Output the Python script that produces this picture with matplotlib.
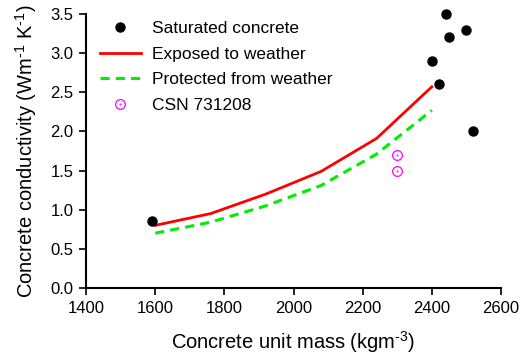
import matplotlib
matplotlib.use("Agg")
import matplotlib.pyplot as plt
from matplotlib.lines import Line2D
from matplotlib.legend_handler import HandlerTuple

plt.rcParams['font.family'] = ['Liberation Sans', 'DejaVu Sans']
plt.rcParams['mathtext.fontset'] = 'custom'
plt.rcParams['mathtext.rm'] = 'Liberation Sans'
plt.rcParams['mathtext.default'] = 'regular'

sat_x = [1590, 2400, 2420, 2440, 2450, 2500, 2520]
sat_y = [0.85, 2.9, 2.6, 3.5, 3.2, 3.3, 2.0]

line_x = [1600, 1760, 1920, 2080, 2240, 2400]
exposed_y = [0.80, 0.95, 1.20, 1.49, 1.91, 2.57]
protected_y = [0.70, 0.84, 1.05, 1.31, 1.71, 2.27]

csn_x = [2300, 2300]
csn_y = [1.7, 1.5]

xticks = [1400, 1600, 1800, 2000, 2200, 2400, 2600]
yticks = [0.0, 0.5, 1.0, 1.5, 2.0, 2.5, 3.0, 3.5]

fig = plt.figure(figsize=(5.2, 3.58), dpi=100)
ax = fig.add_axes([86/520, 1-288/358, (501-86)/520, (288-14)/358])

ax.plot(sat_x, sat_y, 'o', color='black', markersize=6.5, clip_on=False, zorder=5,
        linestyle='none')
ax.plot(line_x, exposed_y, '-', color='#ff0000', linewidth=2)
ax.plot(line_x, protected_y, '--', color='#00ee00', linewidth=2.2, dashes=(3, 2))
ax.plot(csn_x, csn_y, 'o', markerfacecolor='none', markeredgecolor='#ff00ff',
        markersize=7, markeredgewidth=0.9, linestyle='none')
ax.plot(csn_x, csn_y, '.', color='#ff00ff', markersize=1, linestyle='none')

ax.set_xlim(1400, 2600)
ax.set_ylim(0, 3.5)
ax.set_xticks(xticks)
ax.set_yticks(yticks)
ax.set_yticklabels([f"{v:.1f}" for v in yticks])
for s in ['top', 'right']:
    ax.spines[s].set_visible(False)
for s in ['left', 'bottom']:
    ax.spines[s].set_linewidth(1.5)
ax.tick_params(direction='out', length=5, width=1.2, labelsize=12)
ax.tick_params(axis='x', pad=4.5)
ax.tick_params(axis='y', pad=4)

ax.set_xlabel('Concrete unit mass (kgm$^{\\text{-3}}$)', fontsize=14.5, labelpad=9)
ax.set_ylabel('Concrete conductivity (Wm$^{\\text{-1}}$ K$^{\\text{-1}}$)', fontsize=14.5, labelpad=8)

h_sat = Line2D([], [], marker='o', color='black', markersize=6.5, linestyle='none')
h_exp = Line2D([], [], color='#ff0000', linewidth=2)
h_pro = Line2D([], [], color='#00ee00', linewidth=2.2, linestyle='--', dashes=(3, 2))
h_c1 = Line2D([], [], marker='o', markerfacecolor='none', markeredgecolor='#ff00ff',
              markersize=7, markeredgewidth=0.9, linestyle='none')
h_c2 = Line2D([], [], marker='.', color='#ff00ff', markersize=1, linestyle='none')
ax.legend([h_sat, h_exp, h_pro, (h_c1, h_c2)],
          ['Saturated concrete', 'Exposed to weather', 'Protected from weather', 'CSN 731208'],
          handler_map={tuple: HandlerTuple(ndivide=1, pad=0)},
          loc='upper left', bbox_to_anchor=((100-86)/415, 1 - (21-14)/274),
          borderaxespad=0, borderpad=0, frameon=False,
          fontsize=12.5, handlelength=2.35, labelspacing=0.6, handletextpad=0.65)

fig.savefig('out.png', dpi=100)
